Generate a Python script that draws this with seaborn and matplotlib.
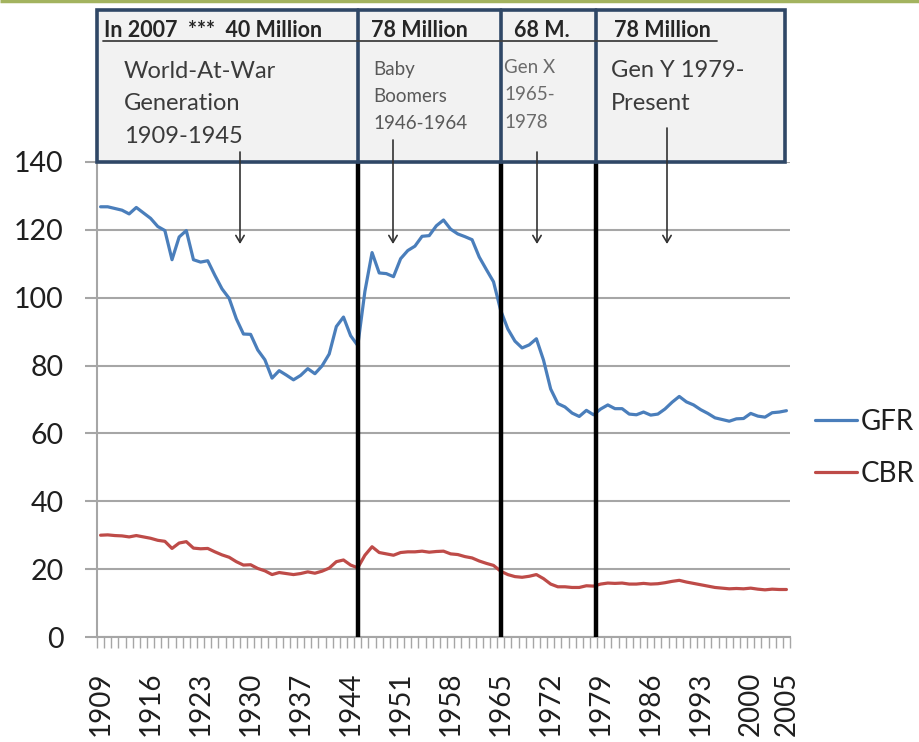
import numpy as np
import pandas as pd
import matplotlib
matplotlib.use("Agg")
import matplotlib.pyplot as plt
import seaborn as sns
from matplotlib.lines import Line2D
from matplotlib.patches import Rectangle

# ---------------- data ----------------
years = list(range(1909, 2006))

gfr = [126.8, 126.8, 126.3, 125.8, 124.7, 126.6, 125.0, 123.4, 121.0, 119.8,
       111.2, 117.9, 119.8, 111.2, 110.5, 110.9, 106.6, 102.6, 99.8, 93.8,
       89.3, 89.2, 84.6, 81.7, 76.3, 78.5, 77.2, 75.8, 77.1, 79.1,
       77.6, 79.9, 83.4, 91.5, 94.3, 88.8, 85.9, 101.9, 113.3, 107.3,
       107.1, 106.2, 111.5, 113.9, 115.2, 118.1, 118.3, 121.2, 122.9, 120.2,
       118.8, 118.0, 117.1, 112.0, 108.3, 104.7, 96.3, 90.8, 87.2, 85.2,
       86.1, 87.9, 81.6, 73.1, 68.8, 67.8, 66.0, 65.0, 66.8, 65.5,
       67.2, 68.4, 67.3, 67.3, 65.7, 65.5, 66.3, 65.4, 65.7, 67.2,
       69.2, 70.9, 69.3, 68.4, 67.0, 65.9, 64.6, 64.1, 63.6, 64.3,
       64.4, 65.9, 65.1, 64.8, 66.1, 66.3, 66.7]

cbr = [30.0, 30.1, 29.9, 29.8, 29.5, 29.9, 29.5, 29.1, 28.5, 28.2,
       26.1, 27.7, 28.1, 26.2, 26.0, 26.1, 25.1, 24.2, 23.5, 22.2,
       21.2, 21.3, 20.2, 19.5, 18.4, 19.0, 18.7, 18.4, 18.7, 19.2,
       18.8, 19.4, 20.3, 22.2, 22.7, 21.2, 20.4, 24.1, 26.6, 24.9,
       24.5, 24.1, 24.9, 25.1, 25.1, 25.3, 25.0, 25.2, 25.3, 24.5,
       24.3, 23.7, 23.3, 22.4, 21.7, 21.1, 19.4, 18.4, 17.8, 17.6,
       17.9, 18.4, 17.2, 15.6, 14.8, 14.8, 14.6, 14.6, 15.1, 15.0,
       15.6, 15.9, 15.8, 15.9, 15.6, 15.6, 15.8, 15.6, 15.7, 16.0,
       16.4, 16.7, 16.2, 15.8, 15.4, 15.0, 14.6, 14.4, 14.2, 14.3,
       14.2, 14.4, 14.1, 13.9, 14.1, 14.0, 14.0]

tick_years = [1909, 1916, 1923, 1930, 1937, 1944, 1951, 1958, 1965,
              1972, 1979, 1986, 1993, 2000, 2005]
y_ticks = [0, 20, 40, 60, 80, 100, 120, 140]

series_names = ["GFR", "CBR"]
series_colors = ["#4a7ebb", "#be4b48"]

# generation boundaries (black vertical lines)
era_bounds = [1945.0, 1965.05, 1978.35]

header_texts = ["In 2007  ***  40 Million", "78 Million", "68 M.", "78 Million"]
body_texts = [["World-At-War", "Generation", "1909-1945"],
              ["Baby", "Boomers", "1946-1964"],
              ["Gen X", "1965-", "1978"],
              ["Gen Y 1979-", "Present"]]

assert len(gfr) == len(years) and len(cbr) == len(years)

df = pd.DataFrame({
    "year": years * 2,
    "value": gfr + cbr,
    "series": ["GFR"] * len(years) + ["CBR"] * len(years),
})

# ---------------- style ----------------
sns.set_style("white")
plt.rcParams["font.family"] = ["Lato", "DejaVu Sans"]

W, H = 919, 742
fig = plt.figure(figsize=(W / 100, H / 100), dpi=100)


def fx(px):
    return px / W


def fy(py):
    return 1 - py / H


ax = fig.add_axes([fx(97), fy(637), fx(790) - fx(97), fy(162) - fy(637)])

sns.lineplot(data=df, x="year", y="value", hue="series",
             palette=dict(zip(series_names, series_colors)),
             linewidth=2.3, ax=ax, legend=False, zorder=3)

ax.set_xlim(1908.5, 2005.5)
ax.set_ylim(0, 140)
ax.set_xlabel("")
ax.set_ylabel("")

grid_c = "#a6a6a6"
ax.set_yticks(y_ticks)
ax.yaxis.grid(True, color=grid_c, lw=1.5)
ax.xaxis.grid(False)
ax.set_axisbelow(True)
for s in ["top", "right"]:
    ax.spines[s].set_visible(False)
for s in ["left", "bottom"]:
    ax.spines[s].set_color(grid_c)
    ax.spines[s].set_linewidth(1.5)

ax.tick_params(axis="y", length=9, width=1.5, color=grid_c, pad=15,
               labelsize=20.5, labelcolor="#1f1f1f", left=True)
ax.set_xticks(tick_years)
ax.set_xticklabels([str(y) for y in tick_years], rotation=90)
ax.tick_params(axis="x", which="major", length=0, pad=25, labelsize=20,
               labelcolor="#1f1f1f")
ax.set_xticks(np.arange(1908.5, 2006, 1), minor=True)
ax.tick_params(axis="x", which="minor", length=8, width=1, color=grid_c,
               bottom=True)

for b in era_bounds:
    ax.axvline(b, color="black", lw=3.2, zorder=5)

handles = [Line2D([], [], color=c, lw=2.3) for c in series_colors]
leg = ax.legend(handles, series_names, loc="center left",
                bbox_to_anchor=(fx(815), fy(448)), bbox_transform=fig.transFigure,
                frameon=False, fontsize=20, handlelength=1.5, handletextpad=0.15,
                labelspacing=0.95, borderpad=0, borderaxespad=0)
for t in leg.get_texts():
    t.set_color("#1f1f1f")

# ---------------- overlay: generation boxes ----------------
fig.canvas.draw()
bound_px = [ax.transData.transform((b, 0))[0] for b in era_bounds]

ov = fig.add_axes([0, 0, 1, 1])
ov.set_xlim(0, W)
ov.set_ylim(H, 0)
ov.axis("off")

# slide top border line
ov.plot([0, W], [1, 1], color="#a3b35f", lw=2.5, solid_capstyle="butt")

box_c = "#2f4766"
box_left, box_right, box_top, box_bot = 97, 785, 10, 162
ov.add_patch(Rectangle((box_left, box_top), box_right - box_left, box_bot - box_top,
                       facecolor="#f2f2f2", edgecolor=box_c, lw=2.6, zorder=2))
for bx in bound_px:
    ov.plot([bx, bx], [box_top, box_bot], color=box_c, lw=2.6, zorder=3)

# header underline
ov.plot([103, 717], [41, 41], color="#404040", lw=1.3, zorder=3)

header_x = [104, 371, 514, 614]
for s, x in zip(header_texts, header_x):
    ov.text(x, 37, s, fontsize=15.5, fontweight="bold", color="#262626",
            ha="left", va="baseline", zorder=4)

body_specs = [
    (124, [78, 110, 143], 17, "#3b3b3b"),
    (373, [75, 102, 129], 13.5, "#595959"),
    (504, [73, 100, 128], 13.5, "#6b6b6b"),
    (611, [77, 110], 17, "#3b3b3b"),
]
for lines, (x, ys, fs, col) in zip(body_texts, body_specs):
    for s, y in zip(lines, ys):
        ov.text(x, y, s, fontsize=fs, color=col, ha="left", va="baseline", zorder=4)

arrow_specs = [(240, 152), (393, 140), (537, 152), (667, 128)]
for x, y0 in arrow_specs:
    ov.annotate("", xy=(x, 244), xytext=(x, y0),
                arrowprops=dict(arrowstyle="->,head_length=0.5,head_width=0.3",
                                color="#333333", lw=1.2, shrinkA=0, shrinkB=0),
                zorder=4)

fig.savefig("out.png", dpi=100)
